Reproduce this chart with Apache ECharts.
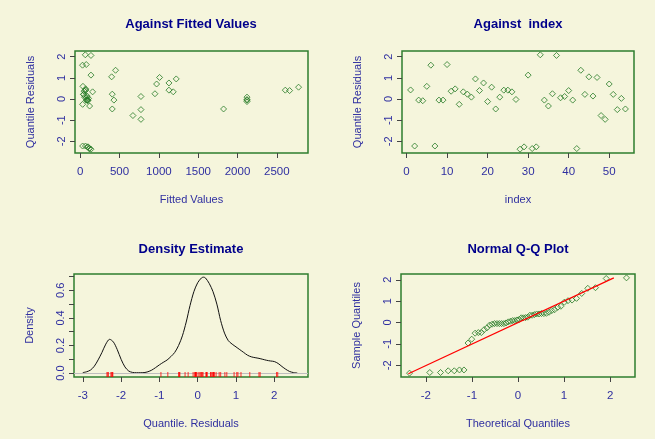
<!DOCTYPE html>
<html><head><meta charset="utf-8">
<script src="https://cdn.jsdelivr.net/npm/echarts@6/dist/echarts.min.js"></script>
<style>html,body{margin:0;padding:0;background:#F5F5DC}#c{width:655px;height:439px}</style>
</head><body><div id="c"></div>
<script>
// ---- data ----
const indexVals = Array.from({length:54}, (_, i) => i + 1);
const residuals = [0.43,-2.22,-0.05,-0.08,0.60,1.60,-2.22,-0.05,-0.05,1.63,
  0.37,0.48,-0.25,0.34,0.23,0.09,0.95,0.40,0.76,-0.12,
  0.56,-0.47,0.09,0.42,0.42,0.34,-0.02,-2.37,-2.26,1.13,
  -2.34,-2.26,2.09,-0.05,-0.33,0.25,2.06,0.06,0.12,0.40,
  -0.05,-2.34,1.36,0.22,1.05,0.14,1.02,-0.78,-0.96,0.71,
  0.22,-0.50,0.03,-0.47];
const fittedVals = [70,30,75,95,34,29,66,2121,428,76,
  50,68,30,1183,407,2121,1221,2663,1128,2121,
  2777,407,55,2608,1128,157,2121,136,100,136,
  118,92,64,100,119,950,136,80,772,62,
  85,112,449,40,399,88,1009,670,772,971,
  45,772,105,1823];
const densX = [-3.0,-2.9,-2.8,-2.7,-2.6,-2.5,-2.4,-2.3,-2.2,-2.1,-2.0,-1.9,-1.8,-1.7,-1.6,-1.5,-1.4,-1.3,-1.2,-1.1,
  -1.0,-0.9,-0.8,-0.7,-0.6,-0.5,-0.4,-0.3,-0.2,-0.1,0.0,0.1,0.15,0.2,0.3,0.4,0.5,0.6,0.7,0.8,
  0.9,1.0,1.1,1.2,1.3,1.4,1.5,1.6,1.7,1.8,1.9,2.0,2.1,2.2,2.3,2.4,2.5,2.6];
const densY = [0.004,0.010,0.022,0.050,0.096,0.150,0.210,0.245,0.225,0.170,0.100,0.045,0.015,0.005,0.003,0.003,0.004,0.010,0.022,0.040,
  0.060,0.078,0.095,0.120,0.150,0.200,0.270,0.370,0.490,0.590,0.655,0.690,0.695,0.690,0.650,0.590,0.500,0.380,0.290,0.235,
  0.210,0.190,0.170,0.150,0.130,0.118,0.112,0.107,0.100,0.093,0.088,0.084,0.070,0.048,0.028,0.012,0.004,0.001];
const theoQ = [-2.355,-1.915,-1.682,-1.515,-1.383,-1.271,-1.173,-1.085,-1.005,-0.931,
  -0.861,-0.796,-0.734,-0.674,-0.617,-0.562,-0.509,-0.456,-0.405,-0.356,
  -0.306,-0.258,-0.210,-0.163,-0.116,-0.070,-0.023,0.023,0.070,0.116,
  0.163,0.210,0.258,0.306,0.356,0.405,0.456,0.509,0.562,0.617,
  0.674,0.734,0.796,0.861,0.931,1.005,1.085,1.173,1.271,1.383,
  1.515,1.682,1.915,2.355];
const qqLineX = [-2.38, 2.08];
const qqLineY = [-2.40, 2.09];
const resTicks = [-2,-1,0,1,2];
const fitTicks = [0,500,1000,1500,2000,2500];
const idxTicks = [0,10,20,30,40,50];
const densXTicks = [-3,-2,-1,0,1,2];
const densYTicks = [0,0.1,0.2,0.3,0.4,0.5,0.6,0.7];
const densYLabels = [0,0.2,0.4,0.6];
const qqXTicks = [-2,-1,0,1,2];

// ---- styling ----
const LBL = '#2f2fa0', TITLE = '#00008B', GREEN = '#2e7d2e', PT = '#267a26';
const FONT = "'Liberation Sans', Arial, sans-serif";
const NFONT = "'Liberation Sans Narrow', 'Arial Narrow', 'Liberation Sans', Arial, sans-serif";
const grids = [
  {left:75, top:51, width:233, height:102},
  {left:402, top:51, width:232, height:102},
  {left:74, top:274, width:234, height:103},
  {left:401, top:274, width:234, height:103}
].map(g => Object.assign({show:true, borderColor:GREEN, borderWidth:1.5, backgroundColor:'transparent'}, g));

function xAx(gi, min, max, ticks, labels, name) {
  return {type:'value', gridIndex:gi, min, max, name, nameLocation:'middle', nameGap:41,
    nameTextStyle:{color:LBL, fontSize:11, fontFamily:FONT},
    axisLine:{show:false, onZero:false}, splitLine:{show:false},
    axisTick:{show:true, length:5, customValues:ticks, lineStyle:{color:'#444'}},
    axisLabel:{customValues:labels, margin:13, color:LBL, fontSize:11.5, fontFamily:NFONT,
      formatter:v => String(v)}};
}
function yAx(gi, min, max, ticks, labels, name, fmt) {
  return {type:'value', gridIndex:gi, min, max, name, nameLocation:'middle', nameGap:39,
    nameTextStyle:{color:LBL, fontSize:11, fontFamily:FONT},
    axisLine:{show:false, onZero:false}, splitLine:{show:false},
    axisTick:{show:true, length:5, customValues:ticks, lineStyle:{color:'#444'}},
    axisLabel:{customValues:labels, margin:8, rotate:90, color:LBL, fontSize:11, fontFamily:FONT,
      formatter: fmt || (v => String(v))}};
}

const ptStyle = {symbol:'diamond', symbolSize:6, itemStyle:{color:'transparent', borderColor:PT, borderWidth:1}};
const sortedRes = residuals.slice().sort((a,b)=>a-b);
const densMinY = -0.028;

const option = {
  backgroundColor:'#F5F5DC',
  animation:false,
  grid: grids,
  xAxis: [
    xAx(0, -67, 2897, fitTicks, fitTicks, 'Fitted Values'),
    xAx(1, -1.12, 56.12, idxTicks, idxTicks, 'index'),
    xAx(2, -3.23, 2.88, densXTicks, densXTicks, 'Quantile. Residuals'),
    xAx(3, -2.54, 2.54, qqXTicks, qqXTicks, 'Theoretical Quantiles')
  ],
  yAxis: [
    yAx(0, -2.55, 2.27, resTicks, resTicks, 'Quantile Residuals'),
    yAx(1, -2.55, 2.27, resTicks, resTicks, 'Quantile Residuals'),
    yAx(2, densMinY, 0.718, densYTicks, densYLabels, 'Density', v => v.toFixed(1)),
    yAx(3, -2.55, 2.27, resTicks, resTicks, 'Sample Quantiles')
  ],
  graphic: [
    ['Against Fitted Values', 191, 24],
    ['Against  index', 518, 24],
    ['Density Estimate', 191, 249],
    ['Normal Q-Q Plot', 518, 249]
  ].map(t => ({type:'text', x:t[1], y:t[2], silent:true,
    style:{text:t[0], fill:TITLE, font:'bold 13px ' + FONT, textAlign:'center', textVerticalAlign:'middle', align:'center', verticalAlign:'middle'}})),
  series: [
    Object.assign({type:'scatter', xAxisIndex:0, yAxisIndex:0, data: fittedVals.map((f,i)=>[f, residuals[i]])}, ptStyle),
    Object.assign({type:'scatter', xAxisIndex:1, yAxisIndex:1, data: indexVals.map((k,i)=>[k, residuals[i]])}, ptStyle),
    {type:'line', xAxisIndex:2, yAxisIndex:2, smooth:0.3, showSymbol:false, symbol:'none',
      lineStyle:{color:'#111', width:1}, data: densX.map((x,i)=>[x, densY[i]]),
      markLine:{silent:true, symbol:'none', label:{show:false}, lineStyle:{color:'#bebebe', width:1, type:'solid'}, data:[{yAxis:0}]}},
    {type:'scatter', xAxisIndex:2, yAxisIndex:2, symbol:'rect', symbolSize:[1,5], symbolOffset:[0,-2.5],
      itemStyle:{color:'#ff0000'}, data: residuals.map(r => [r, densMinY]), z:5},
    {type:'line', xAxisIndex:3, yAxisIndex:3, showSymbol:false, symbol:'none', lineStyle:{color:'#ff0000', width:1.2},
      data: qqLineX.map((x,i)=>[x, qqLineY[i]])},
    Object.assign({type:'scatter', xAxisIndex:3, yAxisIndex:3, data: theoQ.map((q,i)=>[q, sortedRes[i]])}, ptStyle)
  ]
};
echarts.init(document.getElementById('c'), null, {renderer:'canvas'}).setOption(option);
</script></body></html>
